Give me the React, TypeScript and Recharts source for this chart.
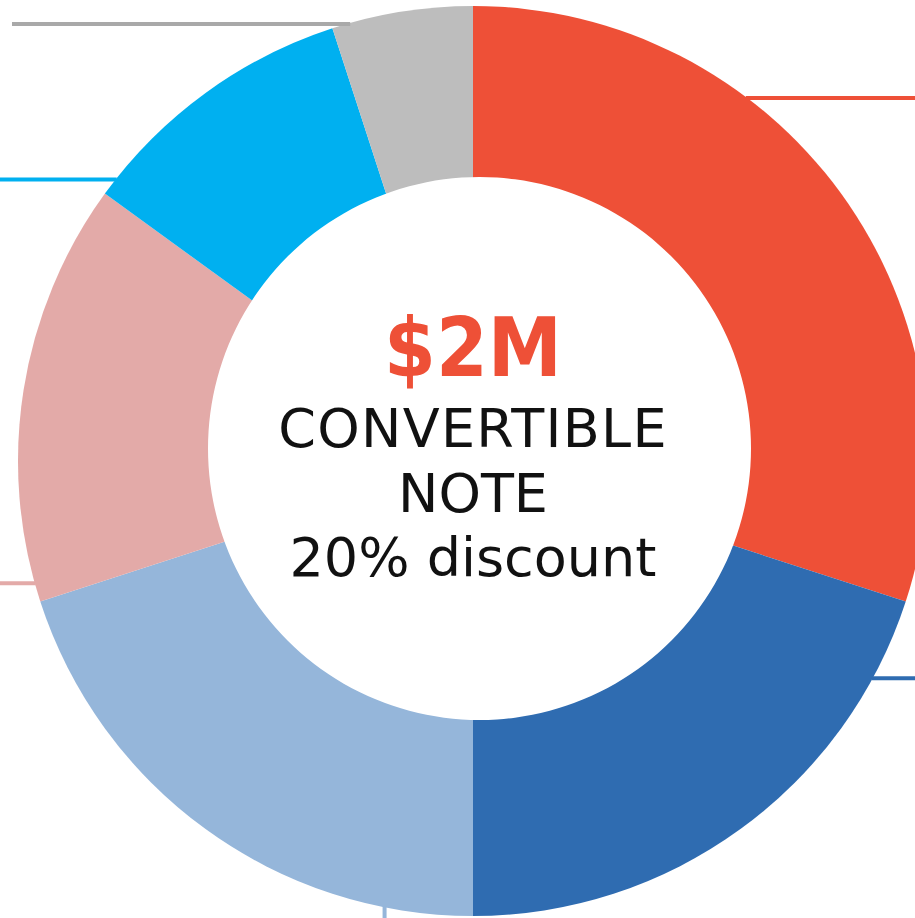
import { PieChart, Pie, Cell } from 'recharts';

// slice order: clockwise from 12 o'clock
const shareNames = ['Share 1', 'Share 2', 'Share 3', 'Share 4', 'Share 5', 'Share 6'];
const shareValues = [30, 20, 20, 15, 10, 5];

const headline = '$2M';
const noteLines = ['CONVERTIBLE', 'NOTE', '20% discount'];

const sliceColors = ['#EE5037', '#2F6CB1', '#95B6DA', '#E3AAA8', '#00B0F0', '#BDBDBD'];
const leaderColors = ['#EE5037', '#2F6CB1', '#95B6DA', '#E3AAA8', '#00B0F0', '#A9A9A9'];
// where each leader line leaves its slice (fraction of the arc) and which way it runs
const leaderStyle = [
  { frac: 0.342, dir: 'right', end: 915 },
  { frac: 0.147, dir: 'right', end: 915 },
  { frac: 0.156, dir: 'down', end: 918 },
  { frac: 0.044, dir: 'left', end: 0 },
  { frac: 0.064, dir: 'left', end: 0 },
  { frac: 0.128, dir: 'left', end: 12 },
];

const W = 915;
const H = 918;
const CX = 473;
const CY = 461;
const RADIUS = 455;

const data = shareNames.map((name, i) => ({ name, value: shareValues[i] }));
const hole = [{ name: 'hole', value: 1 }];

const RAD = Math.PI / 180;

const renderLeader = (props: any) => {
  const { cx, cy, outerRadius, startAngle, endAngle, index } = props;
  const s = leaderStyle[index];
  const a = startAngle + s.frac * (endAngle - startAngle);
  const x = cx + (outerRadius - 1) * Math.cos(a * RAD);
  const y = cy - (outerRadius - 1) * Math.sin(a * RAD);
  const x2 = s.dir === 'down' ? x : s.end;
  const y2 = s.dir === 'down' ? s.end : y;
  return (
    <line
      key={`leader-${index}`}
      x1={x}
      y1={y}
      x2={x2}
      y2={y2}
      stroke={leaderColors[index]}
      strokeWidth={4}
    />
  );
};

const renderCenterText = () => (
  <g key="center-text" fontFamily="'DejaVu Sans', sans-serif" textAnchor="middle">
    <text x={CX} y={CY - 85} fill="#EE5037" fontSize={82} fontWeight={700} textLength={178} lengthAdjust="spacingAndGlyphs">
      {headline}
    </text>
    <text x={CX} y={CY - 14} fill="#111" fontSize={54} letterSpacing={1.3}>
      {noteLines[0]}
    </text>
    <text x={CX} y={CY + 51} fill="#111" fontSize={54}>
      {noteLines[1]}
    </text>
    <text x={CX} y={CY + 115} fill="#111" fontSize={54}>
      {noteLines[2]}
    </text>
  </g>
);

export default function App() {
  return (
    <div style={{ position: 'absolute', left: 0, top: 0, width: W, height: H, background: '#fff', overflow: 'hidden' }}>
      <PieChart width={W} height={H} margin={{ top: 0, right: 0, bottom: 0, left: 0 }}>
        <Pie
          data={data}
          dataKey="value"
          nameKey="name"
          cx={CX}
          cy={CY}
          innerRadius={0}
          outerRadius={RADIUS}
          startAngle={90}
          endAngle={-270}
          stroke="none"
          label={renderLeader}
          labelLine={false}
          isAnimationActive={false}
        >
          {data.map((d, i) => (
            <Cell key={d.name} fill={sliceColors[i]} />
          ))}
        </Pie>
        <Pie
          data={hole}
          dataKey="value"
          cx={479.5}
          cy={448.5}
          innerRadius={0}
          outerRadius={271.5}
          fill="#fff"
          stroke="none"
          label={renderCenterText}
          labelLine={false}
          isAnimationActive={false}
        />
      </PieChart>
    </div>
  );
}
